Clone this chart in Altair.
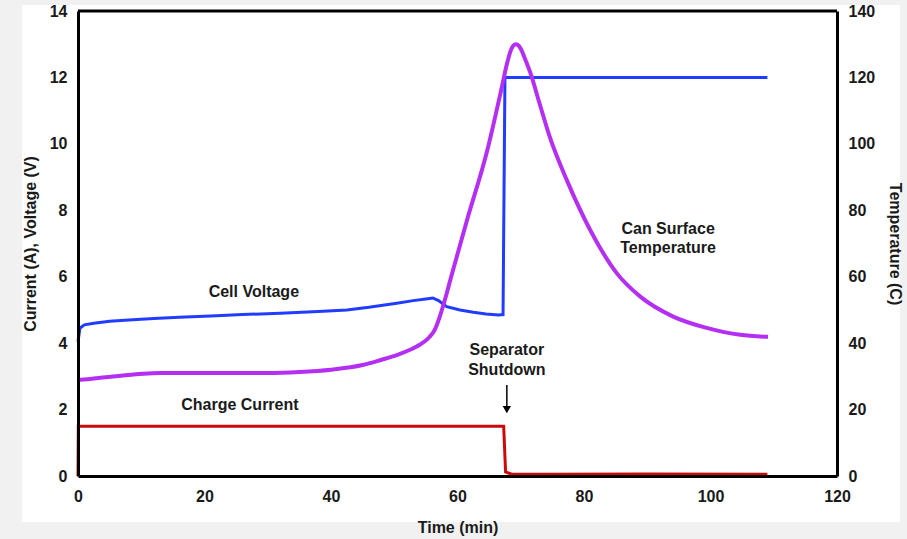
import altair as alt
import pandas as pd

# ---- data ----
volt_t = [0, 0.3, 1, 2.5, 5, 8, 12, 16, 21, 26, 32, 38, 42.5, 46, 50.4, 53, 55, 56.1,
          57, 58.3, 60.4, 62.5, 64.5, 66.5, 67.2, 67.5, 75, 90, 109]
volt_v = [4.04, 4.45, 4.55, 4.6, 4.66, 4.7, 4.74, 4.78, 4.82, 4.86, 4.9, 4.95, 5.0,
          5.08, 5.2, 5.28, 5.33, 5.36, 5.28, 5.1, 5.0, 4.93, 4.88, 4.85, 4.86, 12.0,
          12.0, 12.0, 12.0]

temp_t = [0, 1.5, 3.2, 6, 8.5, 10.3, 13, 20, 25, 30, 35, 40, 45, 48, 50.4, 52.5, 54.1,
          55.5, 56.4, 57.2, 58, 59, 61.5, 64.7, 67, 67.8, 68.5, 69.2, 69.9, 70.7, 71.5,
          73, 74.6, 77.3, 81, 85.2, 88.9, 94.1, 99.4, 104.7, 109.1]
temp_c = [28.9, 29.1, 29.5, 30.0, 30.5, 30.8, 31.0, 31.0, 31.0, 31.0, 31.3, 32.0, 33.4,
          35.0, 36.4, 38.0, 39.6, 41.7, 44.0, 48.0, 53.0, 60.0, 77.0, 98.0, 117.0, 124.0,
          128.5, 130.0, 129.0, 125.5, 121.5, 112.0, 102.0, 89.0, 74.0, 61.0, 54.0, 48.0,
          44.6, 42.5, 41.9]

curr_t = [0, 0.05, 67.3, 67.6, 68.5, 75, 90, 109]
curr_a = [0, 1.5, 1.5, 0.12, 0.06, 0.05, 0.06, 0.05]

label_t = [27.8, 25.6, 67.8, 67.8, 93.3, 93.3]
label_v = [5.54, 2.14, 3.80, 3.20, 7.44, 6.87]
label_s = ["Cell Voltage", "Charge Current", "Separator", "Shutdown", "Can Surface", "Temperature"]

arrow_t = [67.8]
arrow_top = [2.74]
arrow_bottom = [2.08]
arrow_head = [2.0]

x_ticks = [0, 20, 40, 60, 80, 100, 120]
left_ticks = [0, 2, 4, 6, 8, 10, 12, 14]
right_ticks = [0, 20, 40, 60, 80, 100, 120, 140]

frame_x = [0]
frame_x2 = [120]
frame_y = [14]

volt = pd.DataFrame({"t": volt_t, "value": volt_v})
curr = pd.DataFrame({"t": curr_t, "value": curr_a})
temp = pd.DataFrame({"t": temp_t, "temp": temp_c})
labels = pd.DataFrame({"t": label_t, "value": label_v, "label": label_s})
arrow = pd.DataFrame({"t": arrow_t, "value": arrow_top, "value2": arrow_bottom, "head": arrow_head})
frame = pd.DataFrame({"t": frame_x, "t2": frame_x2, "value": frame_y})

FONT = "Liberation Sans"

x_enc = alt.X("t:Q", scale=alt.Scale(domain=[0, 120], nice=False),
              axis=alt.Axis(values=x_ticks, title="Time (min)", labelPadding=12,
                            titlePadding=15, zindex=1, labelFlush=False))
y_scale = alt.Scale(domain=[0, 14], nice=False)
y_axis = alt.Axis(values=left_ticks, title="Current (A), Voltage (V)", orient="left",
                  labelPadding=11, titlePadding=11, zindex=1)
y_enc = alt.Y("value:Q", scale=y_scale, axis=y_axis)

panel = alt.Chart(pd.DataFrame({"a": [0]})).mark_rect(color="white").encode(
    x=alt.value(-56), x2=alt.value(822), y=alt.value(-6), y2=alt.value(511)
)

top_border = alt.Chart(frame).mark_rule(color="black", strokeWidth=3).encode(
    x=x_enc, x2="t2:Q", y=y_enc)

volt_line = alt.Chart(volt).mark_line(color="#1f3cff", strokeWidth=3).encode(
    x=x_enc, y=y_enc, order="t:Q")
curr_line = alt.Chart(curr).mark_line(color="#cc0a0a", strokeWidth=3).encode(
    x=x_enc, y=y_enc, order="t:Q")
texts = alt.Chart(labels).mark_text(font=FONT, fontWeight="bold", fontSize=16,
                                    color="#1a1a1a").encode(
    x=x_enc, y=y_enc, text="label:N")
arrow_line = alt.Chart(arrow).mark_rule(color="black", strokeWidth=1.5).encode(
    x=x_enc, y=y_enc, y2="value2:Q")
arrow_tip = alt.Chart(arrow).mark_point(shape="triangle-down", filled=True, color="black",
                                        size=70, opacity=1).encode(
    x=x_enc, y=alt.Y("head:Q", scale=y_scale, axis=y_axis))

left = alt.layer(panel, top_border, curr_line, volt_line, texts, arrow_line, arrow_tip)

temp_line = alt.Chart(temp).mark_line(color="#b52ff2", strokeWidth=4,
                                      interpolate="monotone").encode(
    x=x_enc,
    y=alt.Y("temp:Q", scale=alt.Scale(domain=[0, 140], nice=False),
            axis=alt.Axis(values=right_ticks, title="Temperature (C)", orient="right",
                          labelPadding=11, titlePadding=12, zindex=1)),
    order="t:Q")

chart = alt.layer(left, temp_line).resolve_scale(y="independent").properties(
    width=759, height=465,
    autosize=alt.AutoSizeParams(type="none"),
    padding={"left": 78, "top": 11, "right": 70, "bottom": 63},
    background="#f1f1f1",
).configure_view(
    stroke="black", strokeWidth=3
).configure_axis(
    labelFont=FONT, titleFont=FONT, labelFontWeight="bold", titleFontWeight="bold",
    labelFontSize=16, titleFontSize=16, labelColor="#1a1a1a", titleColor="#1a1a1a",
    ticks=False, grid=False, domain=True, domainColor="black", domainWidth=3
)

chart.save("out.html", embed_options={"renderer": "svg", "actions": False})
